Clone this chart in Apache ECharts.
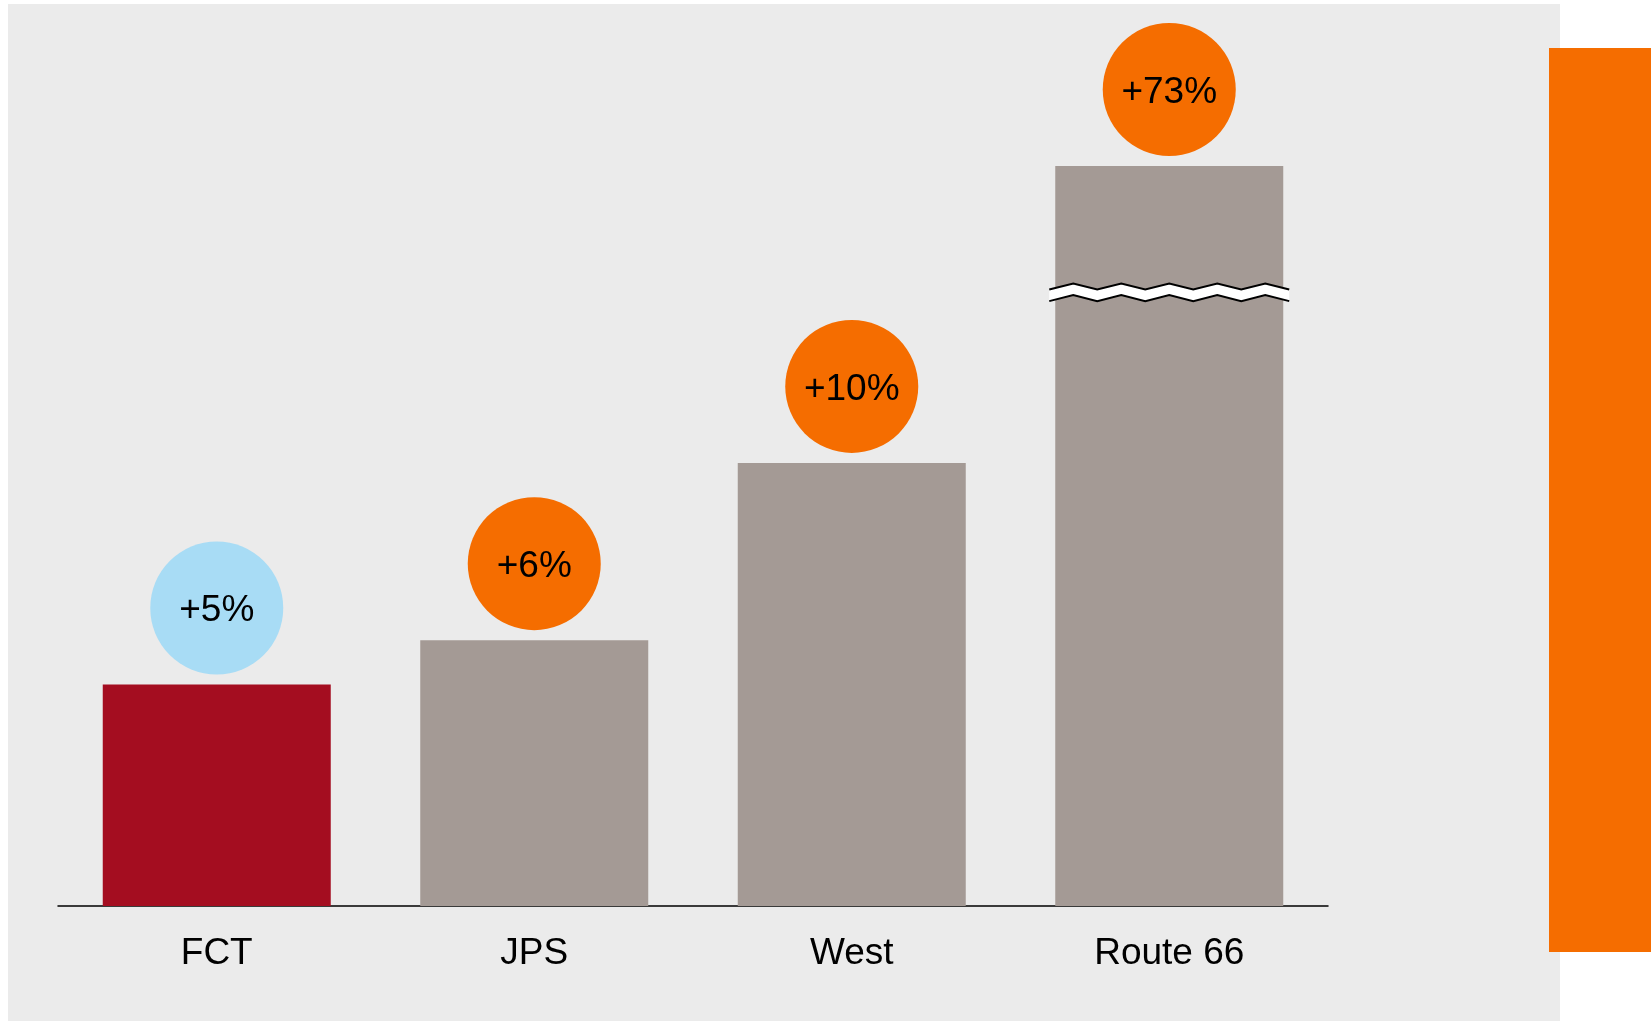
<!DOCTYPE html>
<html>
<head>
<meta charset="utf-8">
<title>Growth by route</title>
<script src="https://cdn.jsdelivr.net/npm/echarts@6/dist/echarts.min.js"></script>
<style>
  html, body { margin: 0; padding: 0; background: #ffffff; }
  #chart { width: 1651px; height: 1021px; }
</style>
</head>
<body>
<div id="chart"></div>
<script>
// Categories and growth values (percent)
const categories = ['FCT', 'JPS', 'West', 'Route 66'];
const growth = [5, 6, 10, 73];

// Portion of the value axis that is cut out (drawn as a zigzag break)
const breakRange = [13.65, 70.35];
const breakGap = 0.4;

// Colours
const barColors = ['#A40D20', '#A49A95', '#A49A95', '#A49A95'];
const bubbleColors = ['#A8DCF5', '#F56D00', '#F56D00', '#F56D00'];

const FONT = 'Arial, "Liberation Sans", sans-serif';

const chart = echarts.init(document.getElementById('chart'), null, { renderer: 'canvas' });

// Zigzag tear drawn across any bar that passes through the axis break
function renderBreak(params, api) {
  const idx = api.value(0);
  const cx = api.coord([idx, 0])[0];
  const yBot = api.coord([idx, breakRange[0]])[1];
  const yTop = api.coord([idx, breakRange[1]])[1];
  const half = 120, step = 24, amp = 6;
  const upper = [], lower = [];
  let k = 0;
  for (let x = cx - half; x <= cx + half + 0.1; x += step, k++) {
    const trough = (k % 2 === 0);
    upper.push([x, trough ? yTop + amp : yTop]);
    lower.push([x, trough ? yBot : yBot - amp]);
  }
  const poly = upper.concat(lower.slice().reverse());
  return {
    type: 'group',
    children: [
      { type: 'polygon', shape: { points: poly }, style: { fill: '#ffffff', stroke: null } },
      { type: 'polyline', shape: { points: upper }, style: { stroke: '#000', lineWidth: 2, fill: null } },
      { type: 'polyline', shape: { points: lower }, style: { stroke: '#000', lineWidth: 2, fill: null } }
    ]
  };
}

const option = {
  animation: false,
  backgroundColor: '#ffffff',
  graphic: [
    { type: 'rect', z: -10, shape: { x: 8, y: 4, width: 1552, height: 1017 }, style: { fill: '#EBEBEB' } },
    { type: 'rect', z: -9, shape: { x: 1549, y: 48, width: 102, height: 904 }, style: { fill: '#F56D00' } }
  ],
  grid: { left: 58, right: 323, top: 166, bottom: 115, containLabel: false },
  xAxis: {
    type: 'category',
    data: categories,
    axisLine: { show: true, lineStyle: { color: '#000', width: 1.5 } },
    axisTick: { show: false },
    axisLabel: { color: '#000', fontSize: 37, fontFamily: FONT, margin: 29 },
    splitLine: { show: false }
  },
  yAxis: {
    type: 'value',
    min: 0,
    max: 73,
    breaks: [{ start: breakRange[0], end: breakRange[1], gap: breakGap }],
    breakArea: { show: false, itemStyle: { opacity: 0, borderWidth: 0 } },
    axisLine: { show: false },
    axisTick: { show: false },
    axisLabel: { show: false },
    splitLine: { show: false }
  },
  series: [
    {
      type: 'bar',
      data: growth.map((v, i) => ({ value: v, itemStyle: { color: barColors[i] } })),
      barWidth: 228,
      z: 2
    },
    {
      type: 'scatter',
      data: growth.map((v, i) => ({ value: v, itemStyle: { color: bubbleColors[i], opacity: 1 } })),
      symbol: 'circle',
      symbolSize: 133,
      symbolOffset: [0, -76.5],
      itemStyle: { opacity: 1 },
      z: 3,
      label: {
        show: true,
        position: 'inside',
        offset: [0, 3],
        formatter: p => '+' + p.value + '%',
        color: '#000',
        opacity: 1,
        fontSize: 37,
        fontFamily: FONT
      }
    },
    {
      type: 'custom',
      renderItem: renderBreak,
      data: growth.map((v, i) => [i, v]).filter(d => d[1] > breakRange[1]),
      z: 4,
      silent: true
    }
  ]
};

chart.setOption(option);
</script>
</body>
</html>
